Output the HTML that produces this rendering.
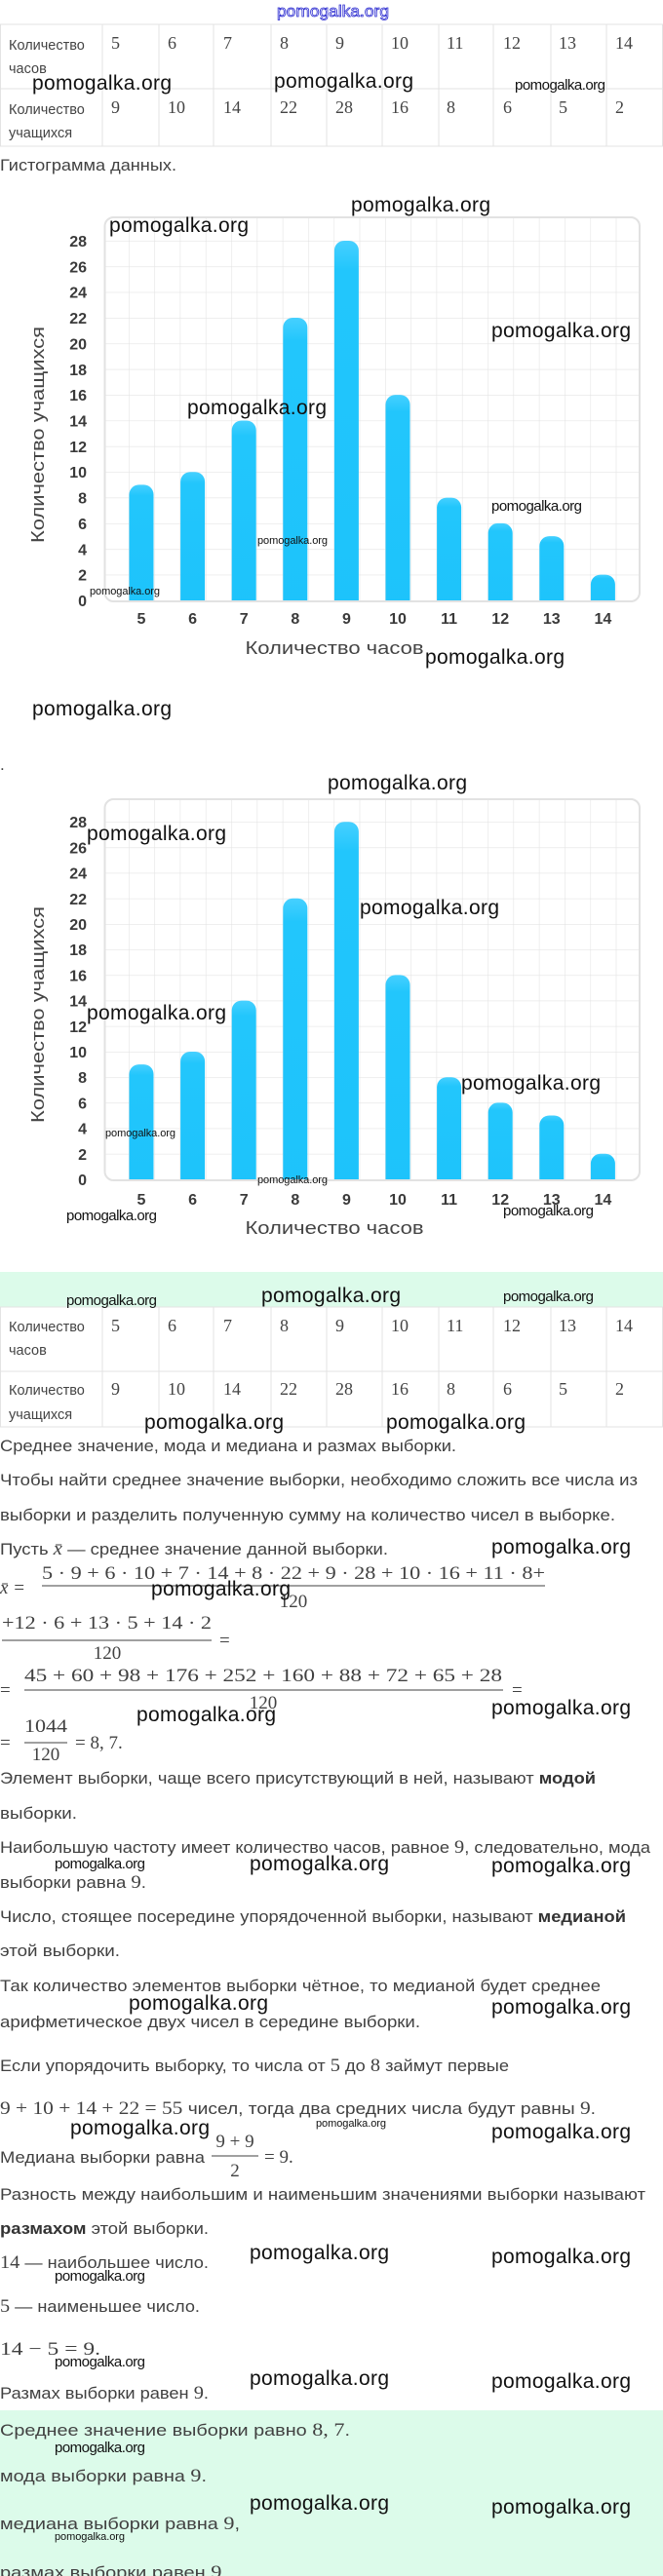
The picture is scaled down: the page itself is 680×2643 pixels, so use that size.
<!DOCTYPE html>
<html><head><meta charset="utf-8"><style>
html,body{margin:0;padding:0;background:#fff;}
svg{display:block;}
.t{font-family:"Liberation Sans","DejaVu Sans",sans-serif;font-size:17px;fill:#414141;}
.m{font-family:"Liberation Serif",serif;font-size:19px;}
.tl{font-family:"Liberation Sans",sans-serif;font-size:14.5px;fill:#444;}
.tn{font-family:"Liberation Serif",serif;font-size:18px;fill:#444;}
.yl{font-family:"Liberation Sans",sans-serif;font-size:16px;font-weight:bold;fill:#3a3a3a;text-anchor:end;}
.xl{font-family:"Liberation Sans",sans-serif;font-size:16px;font-weight:bold;fill:#3a3a3a;text-anchor:middle;}
.at{font-family:"Liberation Sans",sans-serif;font-size:18px;fill:#444;text-anchor:middle;}
.wl{font-family:"Liberation Sans",sans-serif;font-size:21px;fill:#111;}
.ws{font-family:"Liberation Sans",sans-serif;font-size:15px;fill:#111;}
.wt{font-family:"Liberation Sans",sans-serif;font-size:11px;fill:#111;}
</style></head><body>
<svg width="680" height="2643" viewBox="0 0 680 2643" xmlns="http://www.w3.org/2000/svg">
<defs>
<pattern id="g1" x="132" y="616" width="26.3" height="26.36" patternUnits="userSpaceOnUse"><path d="M0 0H26.3M0 0V26.36" stroke="#e4e4e4" stroke-width="1.2" fill="none"/></pattern>
<pattern id="g2" x="132" y="1210" width="26.3" height="26.2" patternUnits="userSpaceOnUse"><path d="M0 0H26.3M0 0V26.2" stroke="#e4e4e4" stroke-width="1.2" fill="none"/></pattern>
<linearGradient id="bg" x1="0" y1="0" x2="0" y2="1"><stop offset="0" stop-color="#46d0ff"/><stop offset="0.08" stop-color="#22c6fc"/><stop offset="1" stop-color="#1dc3fb"/></linearGradient>
<clipPath id="c1"><rect x="0" y="0" width="680" height="616"/></clipPath>
<clipPath id="c2"><rect x="0" y="700" width="680" height="510"/></clipPath>
</defs>
<rect x="0" y="1305" width="680" height="36" fill="#dcfbea"/>
<rect x="0" y="2473" width="680" height="170" fill="#dcfbea"/>

<!-- Table 1 -->
<g stroke="#e3e3e3" stroke-width="1" fill="none">
<rect x="0.5" y="25" width="679" height="125"/>
<line x1="0" y1="91" x2="680" y2="91"/>
<line x1="105" y1="25" x2="105" y2="150"/><line x1="163" y1="25" x2="163" y2="150"/><line x1="219" y1="25" x2="219" y2="150"/><line x1="278" y1="25" x2="278" y2="150"/><line x1="335" y1="25" x2="335" y2="150"/><line x1="392" y1="25" x2="392" y2="150"/><line x1="450" y1="25" x2="450" y2="150"/><line x1="506" y1="25" x2="506" y2="150"/><line x1="565" y1="25" x2="565" y2="150"/><line x1="622" y1="25" x2="622" y2="150"/>
</g>
<text class="tl" x="9" y="51">Количество</text><text class="tl" x="9" y="75">часов</text>
<text class="tl" x="9" y="117">Количество</text><text class="tl" x="9" y="141">учащихся</text>
<g class="tn">
<text x="114" y="50">5</text><text x="172" y="50">6</text><text x="229" y="50">7</text><text x="287" y="50">8</text><text x="344" y="50">9</text><text x="401" y="50">10</text><text x="458" y="50">11</text><text x="516" y="50">12</text><text x="573" y="50">13</text><text x="631" y="50">14</text>
<text x="114" y="116">9</text><text x="172" y="116">10</text><text x="229" y="116">14</text><text x="287" y="116">22</text><text x="344" y="116">28</text><text x="401" y="116">16</text><text x="458" y="116">8</text><text x="516" y="116">6</text><text x="573" y="116">5</text><text x="631" y="116">2</text>
</g>
<text class="t" x="0" y="175" textLength="181" lengthAdjust="spacingAndGlyphs">Гистограмма данных.</text>

<!-- Chart 1 -->
<rect x="107.5" y="223" width="548.5" height="394" rx="9" fill="#fff" stroke="#e2e2e2" stroke-width="2"/>
<rect x="108.5" y="224" width="546.5" height="392" rx="8" fill="url(#g1)"/>
<g clip-path="url(#c1)" fill="url(#bg)">
<rect x="132.5" y="497.4" width="25" height="140" rx="10"/>
<rect x="185.1" y="484.2" width="25" height="150" rx="10"/>
<rect x="237.7" y="431.5" width="25" height="200" rx="10"/>
<rect x="290.3" y="326" width="25" height="300" rx="10"/>
<rect x="342.9" y="247" width="25" height="380" rx="10"/>
<rect x="395.5" y="405.1" width="25" height="220" rx="10"/>
<rect x="448.1" y="510.6" width="25" height="120" rx="10"/>
<rect x="500.7" y="536.9" width="25" height="100" rx="10"/>
<rect x="553.3" y="550.1" width="25" height="80" rx="10"/>
<rect x="605.9" y="589.6" width="25" height="50" rx="10"/>
</g>
<g class="yl">
<text x="89" y="622">0</text><text x="89" y="595.6">2</text><text x="89" y="569.3">4</text><text x="89" y="542.9">6</text><text x="89" y="516.6">8</text><text x="89" y="490.2">10</text><text x="89" y="463.8">12</text><text x="89" y="437.5">14</text><text x="89" y="411.1">16</text><text x="89" y="384.8">18</text><text x="89" y="358.4">20</text><text x="89" y="332">22</text><text x="89" y="305.7">24</text><text x="89" y="279.3">26</text><text x="89" y="253">28</text>
</g>
<g class="xl">
<text x="145" y="640">5</text><text x="197.6" y="640">6</text><text x="250.2" y="640">7</text><text x="302.8" y="640">8</text><text x="355.4" y="640">9</text><text x="408" y="640">10</text><text x="460.6" y="640">11</text><text x="513.2" y="640">12</text><text x="565.8" y="640">13</text><text x="618.4" y="640">14</text>
</g>
<text class="at" x="343" y="671" textLength="183" lengthAdjust="spacingAndGlyphs">Количество часов</text>
<text class="at" transform="translate(45,446) rotate(-90)" textLength="222" lengthAdjust="spacingAndGlyphs">Количество учащихся</text>

<text x="0" y="790" class="t">.</text>

<!-- Chart 2 -->
<rect x="107.5" y="820" width="548.5" height="391" rx="9" fill="#fff" stroke="#e2e2e2" stroke-width="2"/>
<rect x="108.5" y="821" width="546.5" height="389" rx="8" fill="url(#g2)"/>
<g clip-path="url(#c2)" fill="url(#bg)">
<rect x="132.5" y="1092.1" width="25" height="140" rx="10"/>
<rect x="185.1" y="1079" width="25" height="150" rx="10"/>
<rect x="237.7" y="1026.6" width="25" height="200" rx="10"/>
<rect x="290.3" y="921.8" width="25" height="300" rx="10"/>
<rect x="342.9" y="843.2" width="25" height="380" rx="10"/>
<rect x="395.5" y="1000.4" width="25" height="220" rx="10"/>
<rect x="448.1" y="1105.2" width="25" height="120" rx="10"/>
<rect x="500.7" y="1131.4" width="25" height="100" rx="10"/>
<rect x="553.3" y="1144.5" width="25" height="80" rx="10"/>
<rect x="605.9" y="1183.8" width="25" height="50" rx="10"/>
</g>
<g class="yl">
<text x="89" y="1216">0</text><text x="89" y="1189.8">2</text><text x="89" y="1163.6">4</text><text x="89" y="1137.4">6</text><text x="89" y="1111.2">8</text><text x="89" y="1085">10</text><text x="89" y="1058.8">12</text><text x="89" y="1032.6">14</text><text x="89" y="1006.4">16</text><text x="89" y="980.2">18</text><text x="89" y="954">20</text><text x="89" y="927.8">22</text><text x="89" y="901.6">24</text><text x="89" y="875.4">26</text><text x="89" y="849.2">28</text>
</g>
<g class="xl">
<text x="145" y="1236">5</text><text x="197.6" y="1236">6</text><text x="250.2" y="1236">7</text><text x="302.8" y="1236">8</text><text x="355.4" y="1236">9</text><text x="408" y="1236">10</text><text x="460.6" y="1236">11</text><text x="513.2" y="1236">12</text><text x="565.8" y="1236">13</text><text x="618.4" y="1236">14</text>
</g>
<text class="at" x="343" y="1266" textLength="183" lengthAdjust="spacingAndGlyphs">Количество часов</text>
<text class="at" transform="translate(45,1041) rotate(-90)" textLength="222" lengthAdjust="spacingAndGlyphs">Количество учащихся</text>

<!-- Table 2 -->
<rect x="0" y="1341" width="680" height="123" fill="#fff"/>
<g stroke="#e3e3e3" stroke-width="1" fill="none">
<rect x="0.5" y="1341" width="679" height="123"/>
<line x1="0" y1="1407" x2="680" y2="1407"/>
<line x1="105" y1="1341" x2="105" y2="1464"/><line x1="163" y1="1341" x2="163" y2="1464"/><line x1="219" y1="1341" x2="219" y2="1464"/><line x1="278" y1="1341" x2="278" y2="1464"/><line x1="335" y1="1341" x2="335" y2="1464"/><line x1="392" y1="1341" x2="392" y2="1464"/><line x1="450" y1="1341" x2="450" y2="1464"/><line x1="506" y1="1341" x2="506" y2="1464"/><line x1="565" y1="1341" x2="565" y2="1464"/><line x1="622" y1="1341" x2="622" y2="1464"/>
</g>
<text class="tl" x="9" y="1366">Количество</text><text class="tl" x="9" y="1390">часов</text>
<text class="tl" x="9" y="1431">Количество</text><text class="tl" x="9" y="1456">учащихся</text>
<g class="tn">
<text x="114" y="1366">5</text><text x="172" y="1366">6</text><text x="229" y="1366">7</text><text x="287" y="1366">8</text><text x="344" y="1366">9</text><text x="401" y="1366">10</text><text x="458" y="1366">11</text><text x="516" y="1366">12</text><text x="573" y="1366">13</text><text x="631" y="1366">14</text>
<text x="114" y="1431">9</text><text x="172" y="1431">10</text><text x="229" y="1431">14</text><text x="287" y="1431">22</text><text x="344" y="1431">28</text><text x="401" y="1431">16</text><text x="458" y="1431">8</text><text x="516" y="1431">6</text><text x="573" y="1431">5</text><text x="631" y="1431">2</text>
</g>

<!-- Body text -->
<text class="t" x="0" y="1489" textLength="468" lengthAdjust="spacingAndGlyphs">Среднее значение, мода и медиана и размах выборки.</text>
<text class="t" x="0" y="1524" textLength="654" lengthAdjust="spacingAndGlyphs">Чтобы найти среднее значение выборки, необходимо сложить все числа из</text>
<text class="t" x="0" y="1560" textLength="631" lengthAdjust="spacingAndGlyphs">выборки и разделить полученную сумму на количество чисел в выборке.</text>
<text class="t" x="0" y="1595" textLength="398" lengthAdjust="spacingAndGlyphs">Пусть <tspan class="m" font-style="italic">x̄</tspan> — среднее значение данной выборки.</text>

<g>
<text class="m" x="0" y="1635" font-style="italic" fill="#414141">x̄ =</text>
<text class="m" x="43" y="1620" textLength="516" lengthAdjust="spacingAndGlyphs" fill="#414141">5 · 9 + 6 · 10 + 7 · 14 + 8 · 22 + 9 · 28 + 10 · 16 + 11 · 8+</text>
<line x1="43" y1="1627" x2="559" y2="1627" stroke="#414141" stroke-width="1"/>
<text class="m" x="301" y="1649" text-anchor="middle" fill="#414141">120</text>
<text class="m" x="2" y="1671" textLength="215" lengthAdjust="spacingAndGlyphs" fill="#414141">+12 · 6 + 13 · 5 + 14 · 2</text>
<line x1="2" y1="1683" x2="217" y2="1683" stroke="#414141" stroke-width="1"/>
<text class="m" x="110" y="1702" text-anchor="middle" fill="#414141">120</text>
<text class="m" x="225" y="1689" fill="#414141">=</text>
<text class="m" x="0" y="1740" fill="#414141">=</text>
<text class="m" x="25" y="1725" textLength="490" lengthAdjust="spacingAndGlyphs" fill="#414141">45 + 60 + 98 + 176 + 252 + 160 + 88 + 72 + 65 + 28</text>
<line x1="25" y1="1734" x2="516" y2="1734" stroke="#414141" stroke-width="1"/>
<text class="m" x="270" y="1753" text-anchor="middle" fill="#414141">120</text>
<text class="m" x="525" y="1740" fill="#414141">=</text>
<text class="m" x="0" y="1794" fill="#414141">=</text>
<text class="m" x="25" y="1777" textLength="44" lengthAdjust="spacingAndGlyphs" fill="#414141">1044</text>
<line x1="25" y1="1788" x2="69" y2="1788" stroke="#414141" stroke-width="1"/>
<text class="m" x="47" y="1806" text-anchor="middle" fill="#414141">120</text>
<text class="m" x="77" y="1794" fill="#414141">= 8, 7.</text>
</g>

<text class="t" x="0" y="1830" textLength="611" lengthAdjust="spacingAndGlyphs">Элемент выборки, чаще всего присутствующий в ней, называют <tspan font-weight="bold" fill="#333">модой</tspan></text>
<text class="t" x="0" y="1866" textLength="79" lengthAdjust="spacingAndGlyphs">выборки.</text>
<text class="t" x="0" y="1901" textLength="667" lengthAdjust="spacingAndGlyphs">Наибольшую частоту имеет количество часов, равное <tspan class="m">9</tspan>, следовательно, мода</text>
<text class="t" x="0" y="1937" textLength="150" lengthAdjust="spacingAndGlyphs">выборки равна <tspan class="m">9</tspan>.</text>
<text class="t" x="0" y="1972" textLength="642" lengthAdjust="spacingAndGlyphs">Число, стоящее посередине упорядоченной выборки, называют <tspan font-weight="bold" fill="#333">медианой</tspan></text>
<text class="t" x="0" y="2007" textLength="123" lengthAdjust="spacingAndGlyphs">этой выборки.</text>
<text class="t" x="0" y="2043" textLength="616" lengthAdjust="spacingAndGlyphs">Так количество элементов выборки чётное, то медианой будет среднее</text>
<text class="t" x="0" y="2080" textLength="431" lengthAdjust="spacingAndGlyphs">арифметическое двух чисел в середине выборки.</text>
<text class="t" x="0" y="2125" textLength="522" lengthAdjust="spacingAndGlyphs">Если упорядочить выборку, то числа от <tspan class="m">5</tspan> до <tspan class="m">8</tspan> займут первые</text>
<text class="t" x="0" y="2169" textLength="611" lengthAdjust="spacingAndGlyphs"><tspan class="m">9 + 10 + 14 + 22 = 55</tspan> чисел, тогда два средних числа будут равны <tspan class="m">9</tspan>.</text>
<text class="t" x="0" y="2219" textLength="210" lengthAdjust="spacingAndGlyphs">Медиана выборки равна</text>
<text class="m" x="241" y="2203" text-anchor="middle" fill="#414141">9 + 9</text>
<line x1="217" y1="2212" x2="265" y2="2212" stroke="#414141" stroke-width="1"/>
<text class="m" x="241" y="2233" text-anchor="middle" fill="#414141">2</text>
<text class="m" x="271" y="2219" fill="#414141">= 9.</text>
<text class="t" x="0" y="2257" textLength="662" lengthAdjust="spacingAndGlyphs">Разность между наибольшим и наименьшим значениями выборки называют</text>
<text class="t" x="0" y="2292" textLength="214" lengthAdjust="spacingAndGlyphs"><tspan font-weight="bold" fill="#333">размахом</tspan> этой выборки.</text>
<text class="t" x="0" y="2327" textLength="214" lengthAdjust="spacingAndGlyphs"><tspan class="m">14</tspan> — наибольшее число.</text>
<text class="t" x="0" y="2372" textLength="205" lengthAdjust="spacingAndGlyphs"><tspan class="m">5</tspan> — наименьшее число.</text>
<text class="m" x="0" y="2416" textLength="103" lengthAdjust="spacingAndGlyphs" fill="#414141">14 − 5 = 9.</text>
<text class="t" x="0" y="2461" textLength="214" lengthAdjust="spacingAndGlyphs">Размах выборки равен <tspan class="m">9</tspan>.</text>
<text class="t" x="0" y="2499" textLength="359" lengthAdjust="spacingAndGlyphs">Среднее значение выборки равно <tspan class="m">8, 7</tspan>.</text>
<text class="t" x="0" y="2546" textLength="212" lengthAdjust="spacingAndGlyphs">мода выборки равна <tspan class="m">9</tspan>.</text>
<text class="t" x="0" y="2595" textLength="246" lengthAdjust="spacingAndGlyphs">медиана выборки равна <tspan class="m">9</tspan>,</text>
<text class="t" x="0" y="2645" textLength="233" lengthAdjust="spacingAndGlyphs">размах выборки равен <tspan class="m">9</tspan>.</text>

<!-- Watermarks -->
<text x="284" y="17" font-family="Liberation Sans,sans-serif" font-size="17" fill="none" stroke="#2a2ad0" stroke-width="0.8" textLength="115" lengthAdjust="spacingAndGlyphs">pomogalka.org</text>
<g class="wl">
<text x="33" y="92" textLength="143">pomogalka.org</text>
<text x="281" y="90" textLength="143">pomogalka.org</text>
<text x="112" y="238" textLength="143">pomogalka.org</text>
<text x="360" y="217" textLength="143">pomogalka.org</text>
<text x="504" y="346" textLength="143">pomogalka.org</text>
<text x="192" y="425" textLength="143">pomogalka.org</text>
<text x="436" y="681" textLength="143">pomogalka.org</text>
<text x="33" y="734" textLength="143">pomogalka.org</text>
<text x="336" y="810" textLength="143">pomogalka.org</text>
<text x="89" y="862" textLength="143">pomogalka.org</text>
<text x="369" y="938" textLength="143">pomogalka.org</text>
<text x="89" y="1046" textLength="143">pomogalka.org</text>
<text x="473" y="1118" textLength="143">pomogalka.org</text>
<text x="268" y="1336" textLength="143">pomogalka.org</text>
<text x="148" y="1466" textLength="143">pomogalka.org</text>
<text x="396" y="1466" textLength="143">pomogalka.org</text>
<text x="504" y="1594" textLength="143">pomogalka.org</text>
<text x="155" y="1637" textLength="143">pomogalka.org</text>
<text x="140" y="1766" textLength="143">pomogalka.org</text>
<text x="504" y="1759" textLength="143">pomogalka.org</text>
<text x="256" y="1919" textLength="143">pomogalka.org</text>
<text x="504" y="1921" textLength="143">pomogalka.org</text>
<text x="132" y="2062" textLength="143">pomogalka.org</text>
<text x="504" y="2066" textLength="143">pomogalka.org</text>
<text x="72" y="2190" textLength="143">pomogalka.org</text>
<text x="504" y="2194" textLength="143">pomogalka.org</text>
<text x="256" y="2318" textLength="143">pomogalka.org</text>
<text x="504" y="2322" textLength="143">pomogalka.org</text>
<text x="256" y="2447" textLength="143">pomogalka.org</text>
<text x="504" y="2450" textLength="143">pomogalka.org</text>
<text x="256" y="2575" textLength="143">pomogalka.org</text>
<text x="504" y="2579" textLength="143">pomogalka.org</text>
</g>
<g class="ws">
<text x="528" y="92" textLength="93">pomogalka.org</text>
<text x="504" y="524" textLength="93">pomogalka.org</text>
<text x="68" y="1252" textLength="93">pomogalka.org</text>
<text x="516" y="1247" textLength="93">pomogalka.org</text>
<text x="68" y="1339" textLength="93">pomogalka.org</text>
<text x="516" y="1335" textLength="93">pomogalka.org</text>
<text x="56" y="1917" textLength="93">pomogalka.org</text>
<text x="56" y="2340" textLength="93">pomogalka.org</text>
<text x="56" y="2428" textLength="93">pomogalka.org</text>
<text x="56" y="2516" textLength="93">pomogalka.org</text>
</g>
<g class="wt">
<text x="264" y="558" textLength="72">pomogalka.org</text>
<text x="92" y="610" textLength="72">pomogalka.org</text>
<text x="108" y="1166" textLength="72">pomogalka.org</text>
<text x="264" y="1214" textLength="72">pomogalka.org</text>
<text x="324" y="2182" textLength="72">pomogalka.org</text>
<text x="56" y="2606" textLength="72">pomogalka.org</text>
</g>
</svg>
</body></html>
